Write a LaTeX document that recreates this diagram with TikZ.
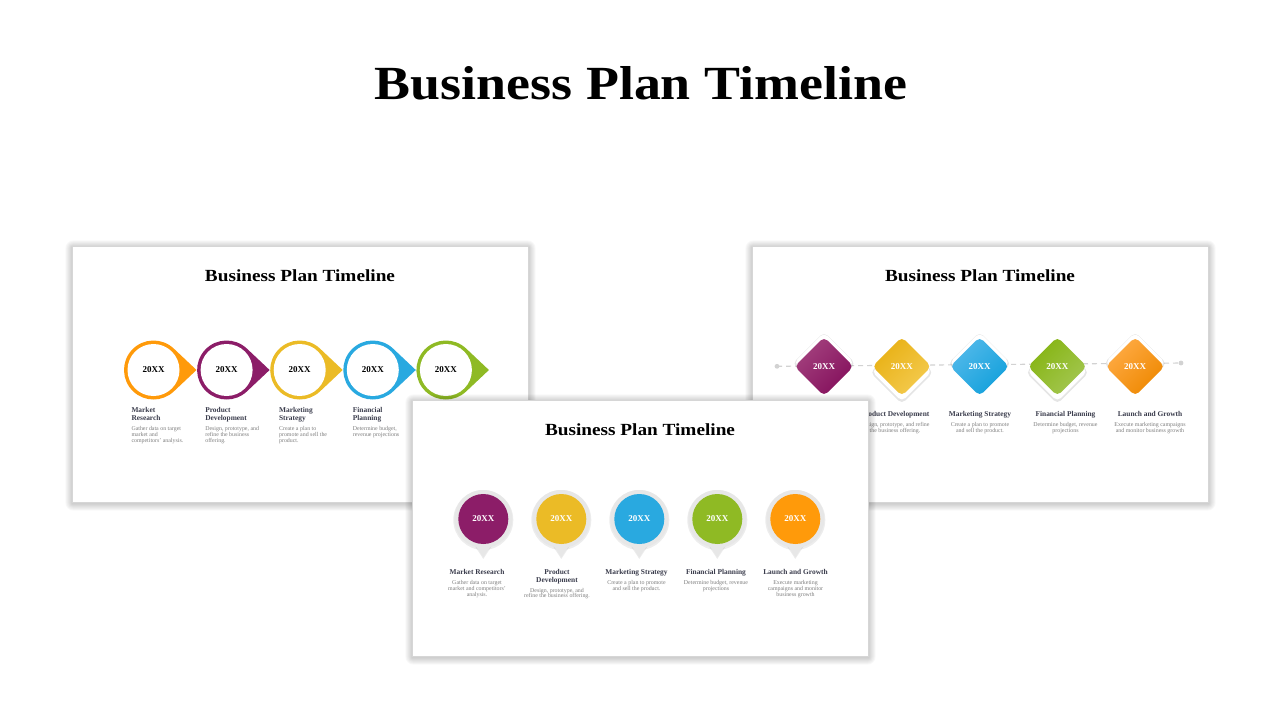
\documentclass[tikz,border=0pt]{standalone}
\usepackage{fontspec}
\setmainfont{Liberation Serif}
\usepackage{graphicx}
\definecolor{cO}{HTML}{FF9A0A}
\definecolor{cP}{HTML}{8C1D68}
\definecolor{cY}{HTML}{EBBB26}
\definecolor{cB}{HTML}{29A9E0}
\definecolor{cG}{HTML}{8FBA24}
\definecolor{headc}{HTML}{3A3C4C}
\definecolor{descc}{HTML}{7E7E7E}
\definecolor{framec}{HTML}{D6D6D6}
\definecolor{haloc}{HTML}{E7E7E7}
\definecolor{dashc}{HTML}{D2D2D2}
\definecolor{Pa}{HTML}{A3417E}\definecolor{Pb}{HTML}{84105C}
\definecolor{Ya}{HTML}{E8B013}\definecolor{Yb}{HTML}{F4CB50}
\definecolor{Ba}{HTML}{52B9EA}\definecolor{Bb}{HTML}{12A0DB}
\definecolor{Ga}{HTML}{85B412}\definecolor{Gb}{HTML}{A4C752}
\definecolor{Oa}{HTML}{FFAB45}\definecolor{Ob}{HTML}{EE8800}
\tikzset{
  headL/.style={anchor=north west, inner sep=0pt, align=left, text=headc, font=\bfseries\fontsize{7.4}{8}\selectfont},
  descL/.style={anchor=north west, inner sep=0pt, align=left, text=descc, font=\fontsize{5.9}{6}\selectfont},
  headC/.style={anchor=north, inner sep=0pt, align=center, text=headc, font=\bfseries\fontsize{7.4}{7.8}\selectfont},
  descC/.style={anchor=north, inner sep=0pt, align=center, text=descc, font=\fontsize{5.9}{5.9}\selectfont},
  yearbox/.style={inner sep=0pt, font=\bfseries\fontsize{9}{9}\selectfont},
  slidetitle/.style={inner sep=0pt, font=\bfseries},
}
\newcommand\slidebox[3]{%
  \foreach \s in {1,...,8}{%
    \fill[black, opacity=0.022, rounded corners=\s pt]
      ({#1-0.9*\s+0.5},{#2-0.9*\s+1.5}) rectangle ({#1+456+0.9*\s+0.5},{#2+256+0.9*\s+1.5});}
  \node[draw=framec, line width=0.8pt, fill=white, minimum width=456pt, minimum height=256pt,
        anchor=north west, inner sep=0pt] (#3) at (#1,#2) {};
  \node[slidetitle] (#3t) at ({#1+228},{#2+30}) {\resizebox{190pt}{11.8pt}{Business Plan Timeline}};
}
\begin{document}
\begin{tikzpicture}[x=1pt,y=-1pt]
\fill[white] (0,0) rectangle (1280,720);
\useasboundingbox (0,0) rectangle (1280,720);

\node[font=\bfseries, inner sep=0pt] (title) at (641,83.3) {\resizebox{532pt}{33pt}{Business Plan Timeline}};

% ---------------- left slide ----------------
\slidebox{72}{246}{SL}
\foreach \i/\c in {0/cO,1/cP,2/cY,3/cB,4/cG}{
  \pgfmathsetmacro\cx{153.5+73.1*\i}
  \fill[\c] (\cx+20.24,391.46) -- (\cx+43,370) -- (\cx+20.24,348.54)
     arc[start angle=-46.68, end angle=-313.32, radius=29.5] -- cycle;
  \fill[white] (\cx,370) circle[radius=26];
  \node[yearbox] (L\i) at (\cx,370) {20XX};
}
\node[headL] (Lh0) at (131.3,407.6) {Market\\Research};
\node[descL] (Ld0) at (131.3,426) {Gather data on target\\market and\\competitors' analysis.};
\node[headL] (Lh1) at (205.1,407.6) {Product\\Development};
\node[descL] (Ld1) at (205.1,426) {Design, prototype, and\\refine the business\\offering.};
\node[headL] (Lh2) at (278.9,407.6) {Marketing\\Strategy};
\node[descL] (Ld2) at (278.9,426) {Create a plan to\\promote and sell the\\product.};
\node[headL] (Lh3) at (352.7,407.6) {Financial\\Planning};
\node[descL] (Ld3) at (352.7,426) {Determine budget,\\revenue projections};

% ---------------- right slide ----------------
\slidebox{752}{246}{SR}
\coordinate (dl) at (777,366.3);
\coordinate (dr) at (1181,363);
\draw[dashc, line width=1.1pt, dash pattern=on 5pt off 4pt] (dl) -- (dr);
\fill[dashc] (dl) circle[radius=2.4];
\fill[dashc] (dr) circle[radius=2.4];
\foreach \i/\dy/\ca/\cb in {0/-4/Pa/Pb,1/5/Ya/Yb,2/-4/Ba/Bb,3/5/Ga/Gb,4/-4/Oa/Ob}{
  \pgfmathsetmacro\cx{824+77.8*\i}
  \pgfmathsetmacro\cy{366.5}
  \pgfmathsetmacro\hy{\cy+\dy}
  \fill[black, opacity=0.10, rounded corners=5pt] (\cx,\hy-30.5) -- (\cx+31.5,\hy+1) -- (\cx,\hy+32.5) -- (\cx-31.5,\hy+1) -- cycle;
  \fill[white, rounded corners=5pt] (\cx,\hy-30) -- (\cx+30,\hy) -- (\cx,\hy+30) -- (\cx-30,\hy) -- cycle;
  \shade[rounded corners=5pt, top color=\ca, bottom color=\cb, shading angle=45]
     (\cx,\cy-29.5) -- (\cx+29.5,\cy) -- (\cx,\cy+29.5) -- (\cx-29.5,\cy) -- cycle;
  \node[yearbox, text=white] (R\i) at (\cx,\cy) {20XX};
}
\node[headC] (Rh1) at (895,411.6) {Product Development};
\node[descC] (Rd1) at (895,422.3) {Design, prototype, and refine\\the business offering.};
\node[headC] (Rh2) at (980,411.6) {Marketing Strategy};
\node[descC] (Rd2) at (980,422.3) {Create a plan to promote\\and sell the product.};
\node[headC] (Rh3) at (1065.5,411.6) {Financial Planning};
\node[descC] (Rd3) at (1065.5,422.3) {Determine budget, revenue\\projections};
\node[headC] (Rh4) at (1150,411.6) {Launch and Growth};
\node[descC] (Rd4) at (1150,422.3) {Execute marketing campaigns\\and monitor business growth};

% ---------------- middle slide ----------------
\slidebox{412}{400}{SM}
\foreach \i/\c in {0/cP,1/cY,2/cB,3/cG,4/cO}{
  \pgfmathsetmacro\cx{483.3+78*\i}
  \fill[black, opacity=0.07] (\cx,520) circle[radius=30];
  \fill[black, opacity=0.07] (\cx-8.5,546) -- (\cx+8.5,546) -- (\cx,559) -- cycle;
  \fill[haloc] (\cx,519) circle[radius=29];
  \fill[haloc] (\cx-8,545) -- (\cx+8,545) -- (\cx,557.5) -- cycle;
  \fill[\c] (\cx,519) circle[radius=25];
  \node[yearbox, text=white] (M\i) at (\cx,519) {20XX};
}
\node[headC] (Mh0) at (477,569.6) {Market Research};
\node[descC] (Md0) at (477,580) {Gather data on target\\market and competitors'\\analysis.};
\node[headC] (Mh1) at (557,569.6) {Product\\Development};
\node[descC] (Md1) at (557,587.7) {Design, prototype, and\\refine the business offering.};
\node[headC] (Mh2) at (636.5,569.6) {Marketing Strategy};
\node[descC] (Md2) at (636.5,580) {Create a plan to promote\\and sell the product.};
\node[headC] (Mh3) at (716,569.6) {Financial Planning};
\node[descC] (Md3) at (716,580) {Determine budget, revenue\\projections};
\node[headC] (Mh4) at (795.5,569.6) {Launch and Growth};
\node[descC] (Md4) at (795.5,580) {Execute marketing\\campaigns and monitor\\business growth};
\end{tikzpicture}
\end{document}
